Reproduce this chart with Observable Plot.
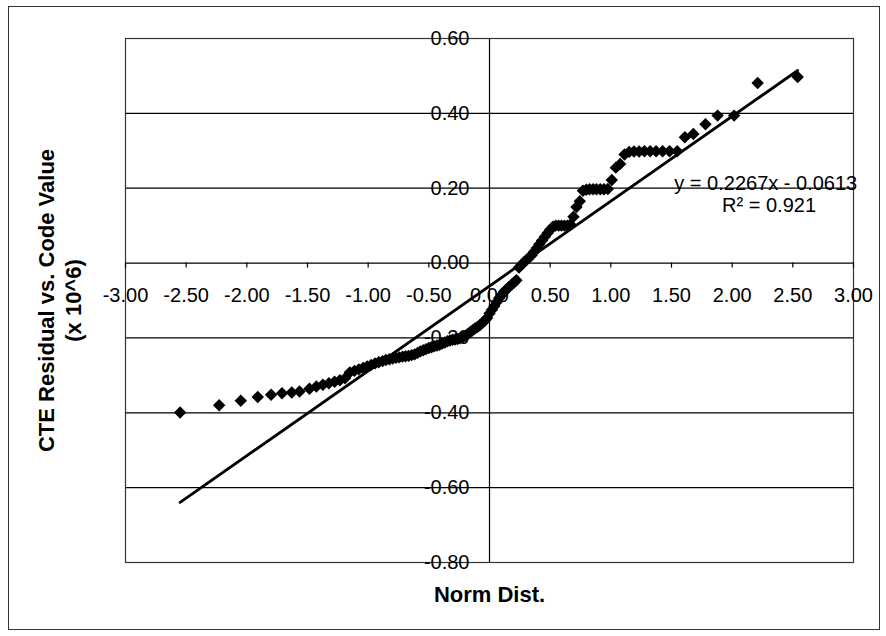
<!DOCTYPE html>
<html>
<head>
<meta charset="utf-8">
<script src="https://cdn.jsdelivr.net/npm/d3@7"></script>
<script src="https://cdn.jsdelivr.net/npm/@observablehq/plot@0.6"></script>
<style>
  html, body { margin: 0; padding: 0; background: #fff; }
  #wrap { position: relative; width: 886px; height: 636px; }
  #border { position: absolute; left: 8px; top: 6px; width: 870px; height: 622px; border: 1px solid #333; pointer-events: none; }
</style>
</head>
<body>
<div id="wrap"><div id="border"></div></div>
<script>
// Normal scores (x) and sorted residuals (y)
const normDist = [
  -2.55, -2.228, -2.05, -1.91, -1.80, -1.71, -1.63, -1.566, -1.484, -1.427,
  -1.373, -1.324, -1.277, -1.233, -1.191, -1.151, -1.113, -1.077, -1.041, -1.008,
  -0.975, -0.943, -0.913, -0.882, -0.854, -0.825, -0.798, -0.770, -0.744, -0.717,
  -0.692, -0.667, -0.642, -0.617, -0.593, -0.570, -0.546, -0.523, -0.500, -0.478,
  -0.456, -0.433, -0.411, -0.390, -0.368, -0.347, -0.326, -0.305, -0.284, -0.263,
  -0.243, -0.222, -0.202, -0.182, -0.161, -0.141, -0.120, -0.100, -0.080, -0.060,
  -0.040, -0.020, 0.000,
  0.020, 0.040, 0.060, 0.080, 0.100, 0.120, 0.141, 0.161, 0.182, 0.202,
  0.222, 0.243, 0.263, 0.284, 0.305, 0.326, 0.347, 0.368, 0.390, 0.411,
  0.433, 0.456, 0.478, 0.500, 0.523, 0.546, 0.570, 0.593, 0.617, 0.642,
  0.667, 0.692, 0.717, 0.744, 0.770, 0.798, 0.825, 0.854, 0.882, 0.913,
  0.943, 0.975, 1.008, 1.041, 1.077, 1.113, 1.151, 1.191, 1.233, 1.277,
  1.324, 1.373, 1.427, 1.484, 1.547, 1.61, 1.68, 1.78, 1.88, 2.016,
  2.21, 2.54
];
const residual = [
  -0.399, -0.380, -0.368, -0.358, -0.352, -0.348, -0.346, -0.343, -0.336, -0.330,
  -0.325, -0.321, -0.317, -0.313, -0.308, -0.292, -0.288, -0.284, -0.280, -0.276,
  -0.272, -0.268, -0.265, -0.262, -0.259, -0.257, -0.255, -0.253, -0.252, -0.250,
  -0.249, -0.248, -0.246, -0.244, -0.240, -0.236, -0.233, -0.230, -0.227, -0.225,
  -0.222, -0.220, -0.218, -0.215, -0.212, -0.209, -0.207, -0.205, -0.204, -0.203,
  -0.201, -0.198, -0.195, -0.190, -0.185, -0.180, -0.175, -0.171, -0.166, -0.160,
  -0.154, -0.147, -0.135,
  -0.125, -0.115, -0.104, -0.093, -0.085, -0.077, -0.070, -0.064, -0.058, -0.052,
  -0.046, -0.012, -0.005, 0.002, 0.008, 0.015, 0.021, 0.030, 0.040, 0.050,
  0.060, 0.070, 0.080, 0.089, 0.097, 0.100, 0.100, 0.100, 0.100, 0.100,
  0.103, 0.124, 0.150, 0.165, 0.193, 0.196, 0.197, 0.197, 0.197, 0.197,
  0.197, 0.198, 0.222, 0.255, 0.265, 0.290, 0.297, 0.298, 0.298, 0.299,
  0.299, 0.299, 0.299, 0.299, 0.299, 0.336, 0.345, 0.371, 0.394, 0.394,
  0.481, 0.497
];

// Trendline (from the chart's equation)
const trendSlope = 0.2267;
const trendIntercept = -0.0613;
const equationText = "y = 0.2267x - 0.0613";
const rSquaredText = "R\u00B2 = 0.921";

// Axis ticks
const xTickValues = [-3, -2.5, -2, -1.5, -1, -0.5, 0, 0.5, 1, 1.5, 2, 2.5, 3];
const xTickLabels = ["-3.00", "-2.50", "-2.00", "-1.50", "-1.00", "-0.50", "0.00", "0.50", "1.00", "1.50", "2.00", "2.50", "3.00"];
const yTickValues = [-0.8, -0.6, -0.4, -0.2, 0, 0.2, 0.4, 0.6];
const yTickLabels = ["-0.80", "-0.60", "-0.40", "-0.20", "0.00", "0.20", "0.40", "0.60"];

const xTitle = "Norm Dist.";
const yTitle1 = "CTE Residual vs. Code Value";
const yTitle2 = "(x 10^6)";

const points = normDist.map((x, i) => ({x, y: residual[i]}));
const xExtent = d3.extent(normDist);
const trend = xExtent.map(x => ({x, y: trendSlope * x + trendIntercept}));

const font = "'Liberation Sans', Arial, Helvetica, sans-serif";

const chart = Plot.plot({
  width: 886,
  height: 636,
  marginLeft: 125,
  marginRight: 33,
  marginTop: 38,
  marginBottom: 74,
  x: {domain: [-3, 3], axis: null},
  y: {domain: [-0.8, 0.6], axis: null},
  style: {fontFamily: font, fontSize: "20px", color: "#000", background: "transparent", overflow: "visible"},
  marks: [
    Plot.ruleY(yTickValues, {stroke: "#000", strokeWidth: 1.2}),
    Plot.frame({stroke: "#333", strokeWidth: 1.2}),
    Plot.text(yTickValues, {x: 0, y: d => d, text: (d, i) => yTickLabels[i], textAnchor: "end", dx: -20, fontSize: 20, fill: "#000"}),
    Plot.text(xTickValues, {x: d => d, y: 0, text: (d, i) => xTickLabels[i], dy: 33, fontSize: 20, fill: "#000"}),
    Plot.ruleX(xTickValues, {y1: 0, y2: -0.0135, stroke: "#000", strokeWidth: 1.2}),
    Plot.ruleX([0], {stroke: "#000", strokeWidth: 1.2}),
    Plot.dot(points, {x: "x", y: "y", symbol: "diamond2", r: 5.6, fill: "#000", stroke: "none"}),
    Plot.line(trend, {x: "x", y: "y", stroke: "#000", strokeWidth: 2.8}),
    Plot.text([equationText], {x: 1.523, y: 0.2125, text: d => d, textAnchor: "start", fontSize: 20, fill: "#000"}),
    Plot.text([rSquaredText], {x: 1.917, y: 0.1526, text: d => d, textAnchor: "start", fontSize: 20, fill: "#000"}),
    Plot.text([xTitle], {frameAnchor: "bottom", text: d => d, dy: 39, fontSize: 22, fontWeight: "bold", fill: "#000"}),
    Plot.text([yTitle1], {frameAnchor: "left", text: d => d, rotate: -90, textAnchor: "middle", dx: -79, fontSize: 22, fontWeight: "bold", fill: "#000"}),
    Plot.text([yTitle2], {frameAnchor: "left", text: d => d, rotate: -90, textAnchor: "middle", dx: -52, fontSize: 22, fontWeight: "bold", fill: "#000"})
  ]
});
document.getElementById("wrap").appendChild(chart);
</script>
</body>
</html>
